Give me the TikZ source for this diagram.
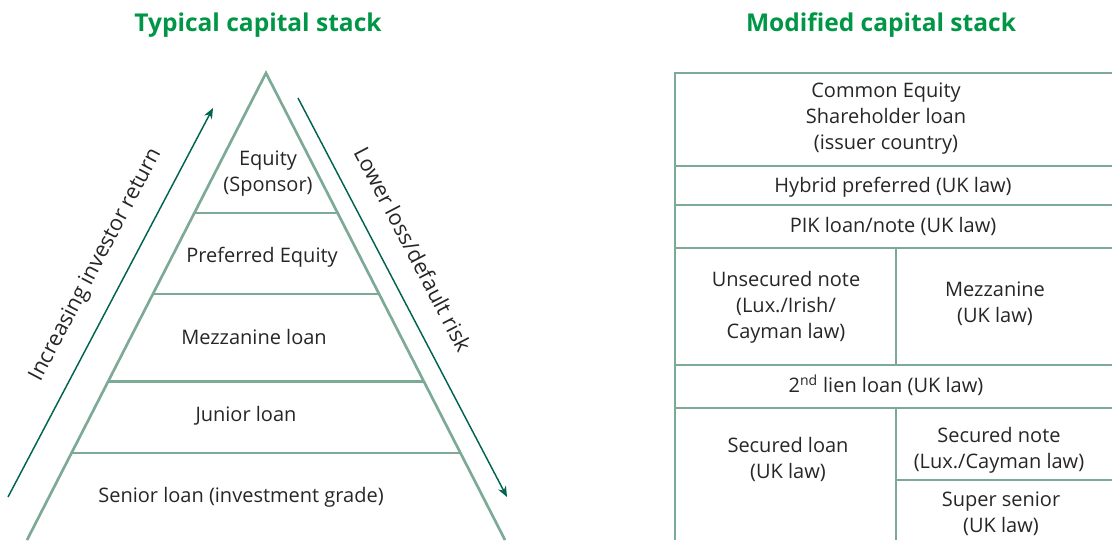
\documentclass[tikz,border=0pt]{standalone}
\usepackage{fontspec}
\setmainfont{Open Sans}
\usetikzlibrary{calc,arrows.meta}
\definecolor{ttlgreen}{RGB}{0,150,70}
\definecolor{edgegreen}{RGB}{125,170,150}
\definecolor{arrgreen}{RGB}{0,100,80}
\begin{document}
\begin{tikzpicture}[x=0.75pt,y=-0.75pt,>={Stealth[length=8pt,width=6.5pt]},
  font=\fontsize{15}{19.5}\selectfont,
  ttl/.style={text=ttlgreen,font=\fontsize{18.4}{22}\selectfont\bfseries},
  tri/.style={draw=edgegreen,line width=2pt},
  arr/.style={draw=arrgreen,line width=1.1pt},
  lbl/.style={align=center,text=black!85},
  side/.style={lbl,font=\fontsize{16.2}{19.5}\selectfont}]
\useasboundingbox (0,0) rectangle (1112,540);
% titles
\node[ttl] (tleft) at (258,25) {Typical capital stack};
\node[ttl] (tright) at (881,25) {Modified capital stack};
% pyramid
\coordinate (apex) at (266,73);
\coordinate (bl) at (27,540);
\coordinate (br) at (505,540);
\draw[tri] (bl) -- (apex) -- (br);
\foreach \f in {0.30,0.473,0.66,0.814}
  \draw[tri] ($(apex)!\f!(bl)$) -- ($(apex)!\f!(br)$);
\node[lbl] (equity) at (268,174) {Equity\\(Sponsor)};
\node[lbl] (pref) at (262,257) {Preferred Equity};
\node[lbl] (mezz) at (254,337) {Mezzanine loan};
\node[lbl] (junior) at (246,416) {Junior loan};
\node[lbl] (senior) at (241,497) {Senior loan (investment grade)};
% side arrows
\coordinate (ret0) at (8,497);
\coordinate (ret1) at (213,108);
\draw[arr,->] (ret0) -- (ret1);
\node[side,rotate=62.2] (retlbl) at (96,265) {Increasing investor return};
\coordinate (risk0) at (298,98);
\coordinate (risk1) at (507,497);
\draw[arr,->] (risk0) -- (risk1);
\node[side,rotate=-62.4] (risklbl) at (413,249) {Lower loss/default risk};
% modified stack
\draw[tri] (675,540) -- (675,73) -- (1112,73);
\foreach \y in {166,205,248,365,408}
  \draw[tri] (675,\y) -- (1112,\y);
\draw[tri] (896,248) -- (896,365);
\draw[tri] (896,408) -- (896,540);
\draw[tri] (896,480) -- (1112,480);
\node[lbl] (common) at (886,119) {Common Equity\\Shareholder loan\\(issuer country)};
\node[lbl] (hybrid) at (893,187) {Hybrid preferred (UK law)};
\node[lbl] (pik) at (893,226) {PIK loan/note (UK law)};
\node[lbl] (unsec) at (786,307) {Unsecured note\\(Lux./Irish/\\Cayman law)};
\node[lbl] (mezzuk) at (995,304) {Mezzanine\\(UK law)};
\node[lbl] (lien) at (886,385) {2\textsuperscript{nd} lien loan (UK law)};
\node[lbl] (secloan) at (788,459) {Secured loan\\(UK law)};
\node[lbl] (secnote) at (999,450) {Secured note\\(Lux./Cayman law)};
\node[lbl] (super) at (1001,514) {Super senior\\(UK law)};
\end{tikzpicture}
\end{document}
